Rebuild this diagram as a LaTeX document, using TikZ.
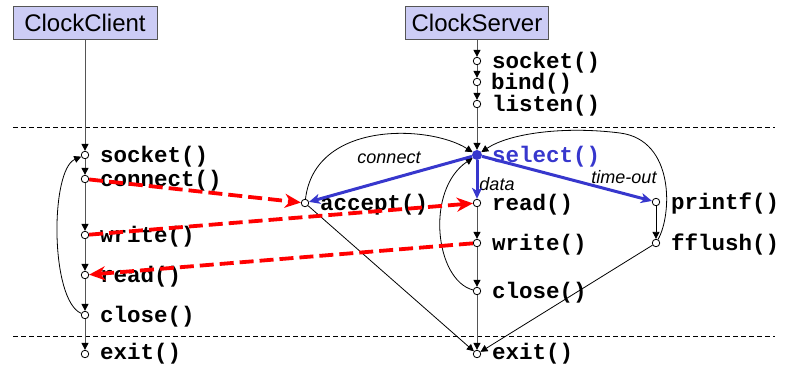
\documentclass[tikz,border=0pt]{standalone}
\usepackage{fontspec}
\setmainfont{Liberation Sans}
\newfontfamily\cmono{Liberation Mono}
\usetikzlibrary{arrows.meta}
\definecolor{boxfill}{RGB}{204,204,245}
\definecolor{selblue}{RGB}{55,55,205}
\definecolor{flowgray}{RGB}{85,85,85}
\begin{document}
\begin{tikzpicture}[x=1pt,y=-1pt,
  procbox/.style={draw=flowgray, fill=boxfill, line width=0.8pt, minimum width=144pt, minimum height=33pt, inner sep=0pt, font=\fontsize{24}{26}\selectfont},
  pt/.style={circle, draw=black, fill=white, line width=0.8pt, inner sep=0pt, minimum size=7.5pt},
  fn/.style={anchor=base west, inner sep=0pt, font=\cmono\bfseries\fontsize{22.5}{24}\selectfont},
  tag/.style={inner sep=0pt, font=\itshape\fontsize{18}{20}\selectfont},
  flow/.style={draw=flowgray, line width=1pt, -{Triangle[length=7pt,width=7pt,color=black]}},
  thinarr/.style={draw=black, line width=0.8pt, -{Triangle[length=7pt,width=7pt]}},
  sep/.style={draw=black, line width=0.7pt, dash pattern=on 5pt off 3pt},
  redflow/.style={draw=red, line width=3.8pt, dash pattern=on 14pt off 6pt, -{Stealth[length=16pt,width=14pt,inset=5pt]}},
  blueflow/.style={draw=selblue, line width=3pt, -{Stealth[length=11pt,width=10pt,inset=3pt]}}
]
\useasboundingbox (0,0) rectangle (785,365);

% separators
\coordinate (d1a) at (13,127);
\coordinate (d1b) at (775,127);
\coordinate (d2a) at (13,336);
\coordinate (d2b) at (775,336);
\draw[sep] (d1a) -- (d1b);
\draw[sep] (d2a) -- (d2b);

% boxes
\node[procbox] (client) at (85,22.5) {ClockClient};
\node[procbox, minimum width=143pt] (server) at (477,22.5) {ClockServer};

% client points
\node[pt] (csock) at (85,155) {};
\node[pt] (cconn) at (85,179) {};
\node[pt] (cwrite) at (85,235) {};
\node[pt] (cread) at (85,275) {};
\node[pt] (cclose) at (85,315) {};
\node[pt] (cexit) at (85,354) {};

\node[fn] (lcsock) at (100,162) {socket()};
\node[fn] (lcconn) at (100,186) {connect()};
\node[fn] (lcwrite) at (100,242) {write()};
\node[fn] (lcread) at (100,282) {read()};
\node[fn] (lcclose) at (100,322) {close()};
\node[fn] (lcexit) at (100,359.5) {exit()};

% server points
\node[pt] (ssock) at (477,61) {};
\node[pt] (sbind) at (477,82) {};
\node[pt] (slisten) at (477,104) {};
\node[circle, fill=selblue, inner sep=0pt, minimum size=10pt] (select) at (477,155) {};
\node[pt] (sread) at (477,203) {};
\node[pt] (swrite) at (477,243) {};
\node[pt] (sclose) at (477,291) {};
\node[pt] (sexit) at (477,354) {};
\node[pt] (accept) at (305,203) {};
\node[pt] (printf) at (656,202) {};
\node[pt] (fflush) at (656,243) {};

\node[fn] (lssock) at (492,68) {socket()};
\node[fn] (lsbind) at (491,89) {bind()};
\node[fn] (lslisten) at (492,111) {listen()};
\node[fn, text=selblue] (lselect) at (492,162) {select()};
\node[fn] (lsread) at (492,210) {read()};
\node[fn] (lswrite) at (492,250) {write()};
\node[fn] (lsclose) at (492,298) {close()};
\node[fn] (lsexit) at (492,359.5) {exit()};
\node[fn] (laccept) at (320,210) {accept()};
\node[fn] (lprintf) at (671,209) {printf()};
\node[fn] (lfflush) at (671,250) {fflush()};

% italic tags
\node[tag] (tconnect) at (389,158) {connect};
\node[tag] (tdata) at (497,184) {data};
\node[tag] (ttimeout) at (624,177) {time-out};

% client flow
\draw[flow] (client) -- (csock);
\draw[flow] (csock) -- (cconn);
\draw[flow] (cconn) -- (cwrite);
\draw[flow] (cwrite) -- (cread);
\draw[flow] (cread) -- (cclose);
\draw[flow] (cclose) -- (cexit);
\draw[thinarr] (cclose) .. controls (50,300) and (50,170) .. (csock);

% server flow
\draw[flow] (server) -- (ssock);
\draw[flow] (ssock) -- (sbind);
\draw[flow] (sbind) -- (slisten);
\draw[flow] (slisten) -- (select);
\draw[flow] (sread) -- (swrite);
\draw[flow] (swrite) -- (sclose);
\draw[flow] (sclose) -- (sexit);
\draw[thinarr] (printf) -- (fflush);

% loops back to select
\draw[thinarr] (accept) .. controls (315,120) and (430,125) .. (select);
\draw[thinarr] (sclose) .. controls (435,280) and (425,190) .. (select);
\coordinate (ftop) at (620,133);
\draw[thinarr] (fflush) .. controls (672,215) and (675,140) .. (ftop) .. controls (565,126) and (510,133) .. (select);

% to exit
\draw[thinarr] (accept) -- (sexit);
\draw[thinarr] (fflush) -- (sexit);

% blue select arrows
\draw[blueflow] (select) -- (accept);
\draw[blueflow] (select) -- (sread);
\draw[blueflow] (select) -- (printf);

% red messages
\draw[redflow] (cconn) -- (accept);
\draw[redflow] (cwrite) -- (sread);
\draw[redflow] (swrite) -- (cread);
\end{tikzpicture}
\end{document}
